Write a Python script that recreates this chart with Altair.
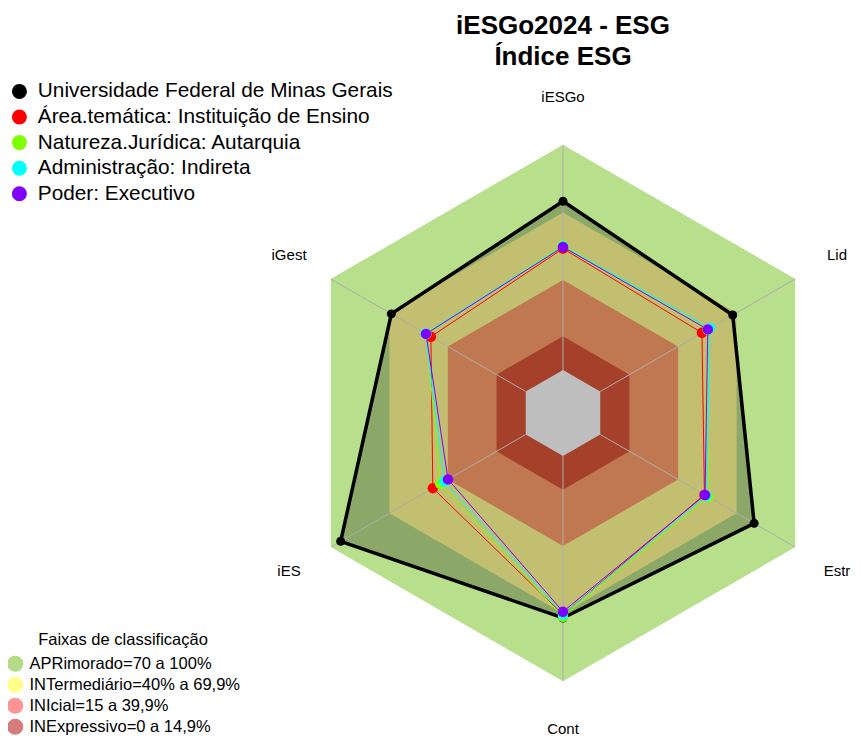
import math
import altair as alt
import pandas as pd

# ---------------- data ----------------
eixos = ["iESGo", "Lid", "Estr", "Cont", "iES", "iGest"]
series = [
    "Universidade Federal de Minas Gerais",
    "Área.temática: Instituição de Ensino",
    "Natureza.Jurídica: Autarquia",
    "Administração: Indireta",
    "Poder: Executivo",
]
cores_series = ["#000000", "#ff0000", "#80ff00", "#00ffff", "#8000ff"]
ufmg = [75, 68, 79, 72, 95, 69]
area_tematica = [54, 52.2, 53.5, 70.5, 47.7, 48.7]
natureza = [55.5, 55, 55.5, 71.5, 43.9, 51]
administracao = [55, 56.4, 54.5, 70.5, 41.8, 51.5]
poder = [54.7, 55.2, 53.8, 69.2, 39.9, 51.2]
valores = [ufmg, area_tematica, natureza, administracao, poder]

faixas = [
    "APRimorado=70 a 100%",
    "INTermediário=40% a 69,9%",
    "INIcial=15 a 39,9%",
    "INExpressivo=0 a 14,9%",
]
limites = [100, 70, 40, 15]
cores_legenda = ["#b3dc85", "#ffff8a", "#ff9494", "#d77c7c"]
cores_faixas = ["#b8e08c", "#c2bf70", "#c07850", "#a5412b"]
cor_centro = "#bebebe"
cor_preench = "#8ba868"
min_escala = -19.1
rotulo_pos = 121.5

N = len(eixos)


def polar(v, i):
    r = v - min_escala
    t = 2 * math.pi * i / N
    return r * math.sin(t), r * math.cos(t)


def anel(vals):
    pts = [list(polar(vals[i], i)) for i in range(N)]
    pts.append(pts[0])
    return {"type": "Polygon", "coordinates": [pts]}


def feat(geom, **props):
    return {"type": "Feature", "geometry": geom, "properties": props}


# legend carrier (hidden under visible bands)
feat_leg = [feat(anel([lim] * N), faixa=f) for f, lim in zip(faixas, limites)]
# visible bands
feat_ext = [feat(anel([limites[0]] * N), cor=cores_faixas[0])]
feat_int = [feat(anel([lim] * N), cor=c) for lim, c in zip(limites[1:], cores_faixas[1:])]
feat_int.append(feat(anel([0] * N), cor=cor_centro))
feat_ufmg = [feat(anel(ufmg), cor=cor_preench)]

# series lines / points
rows = []
for s, vals in zip(series, valores):
    for k in range(N + 1):
        i = k % N
        x, y = polar(vals[i], i)
        rows.append({"serie": s, "k": k, "lon": x, "lat": y, "eixo": eixos[i]})
df = pd.DataFrame(rows)
df_pts = df[df["k"] < N]

spk = []
for i, e in enumerate(eixos):
    x0, y0 = polar(0, i)
    x1, y1 = polar(100, i)
    spk.append({"eixo": e, "lon": x0, "lat": y0, "lon2": x1, "lat2": y1})
df_spk = pd.DataFrame(spk)

lab = []
for i, e in enumerate(eixos):
    x, y = polar(rotulo_pos, i)
    lab.append({"eixo": e, "lon": x, "lat": y})
df_lab = pd.DataFrame(lab)

FONT = "Liberation Sans"

leg_faixas = alt.Legend(
    title="Faixas de classificação",
    orient="none", legendX=-1, legendY=554,
    symbolType="circle", symbolSize=256, symbolStrokeWidth=0,
    labelFont=FONT, labelFontSize=16.5, labelColor="black", labelOffset=6,
    titleFont=FONT, titleFontSize=16.5, titleFontWeight="normal", titleColor="black",
    titleAnchor="middle", titlePadding=7, rowPadding=4, padding=0, labelLimit=500,
)
leg_series = alt.Legend(
    title=None,
    orient="none", legendX=1, legendY=3,
    symbolType="circle", symbolSize=225, symbolStrokeWidth=0,
    labelFont=FONT, labelFontSize=20.8, labelColor="black", labelOffset=8,
    rowPadding=3.6, padding=0, labelLimit=500,
)

l_leg = alt.Chart(alt.Data(values=feat_leg)).mark_geoshape(stroke=None).encode(
    fill=alt.Fill("properties.faixa:N", scale=alt.Scale(domain=faixas, range=cores_legenda),
                  legend=leg_faixas, sort=faixas)
)
l_ext = alt.Chart(alt.Data(values=feat_ext)).mark_geoshape(stroke=None).encode(
    fill=alt.Fill("properties.cor:N", scale=None)
)
l_ufmg = alt.Chart(alt.Data(values=feat_ufmg)).mark_geoshape(stroke=None).encode(
    fill=alt.Fill("properties.cor:N", scale=None)
)
l_int = alt.Chart(alt.Data(values=feat_int)).mark_geoshape(stroke=None).encode(
    fill=alt.Fill("properties.cor:N", scale=None)
)
l_spk = alt.Chart(df_spk).mark_rule(color="#adadad", strokeWidth=1).encode(
    longitude="lon:Q", latitude="lat:Q", longitude2="lon2:Q", latitude2="lat2:Q"
)
teste = alt.datum.serie == series[0]
l_lin = alt.Chart(df).mark_line().encode(
    longitude="lon:Q", latitude="lat:Q", order="k:Q",
    stroke=alt.Stroke("serie:N", scale=alt.Scale(domain=series, range=cores_series), legend=None),
    strokeWidth=alt.condition(teste, alt.value(3.5), alt.value(1)),
)
l_pts = alt.Chart(df_pts).mark_circle(opacity=1).encode(
    longitude="lon:Q", latitude="lat:Q",
    fill=alt.Fill("serie:N", scale=alt.Scale(domain=series, range=cores_series),
                  legend=leg_series, sort=series),
    size=alt.condition(teste, alt.value(81), alt.value(110)),
)
l_lab = alt.Chart(df_lab).mark_text(font=FONT, fontSize=15, color="black").encode(
    longitude="lon:Q", latitude="lat:Q", text="eixo:N"
)

chart = (
    alt.layer(l_leg, l_ext, l_ufmg, l_int, l_spk, l_lin, l_pts, l_lab)
    .resolve_scale(fill="independent")
    .project(type="identity", reflectY=True, scale=2.25, translate=[555, 335])
    .properties(
        width=844, height=659,
        autosize=alt.AutoSizeParams(type="none"),
        padding={"left": 0, "right": 0, "top": 70, "bottom": 0},
        title=alt.Title(
            ["iESGo2024 - ESG", "Índice ESG"],
            font="Liberation Sans Narrow, Arial Narrow, Liberation Sans",
            fontSize=26, fontWeight="bold", color="black",
            anchor="middle", dx=133, lineHeight=31, offset=8,
        ),
    )
    .configure_view(stroke=None)
)

chart.save("out.html", embed_options={"renderer": "svg", "actions": False})
